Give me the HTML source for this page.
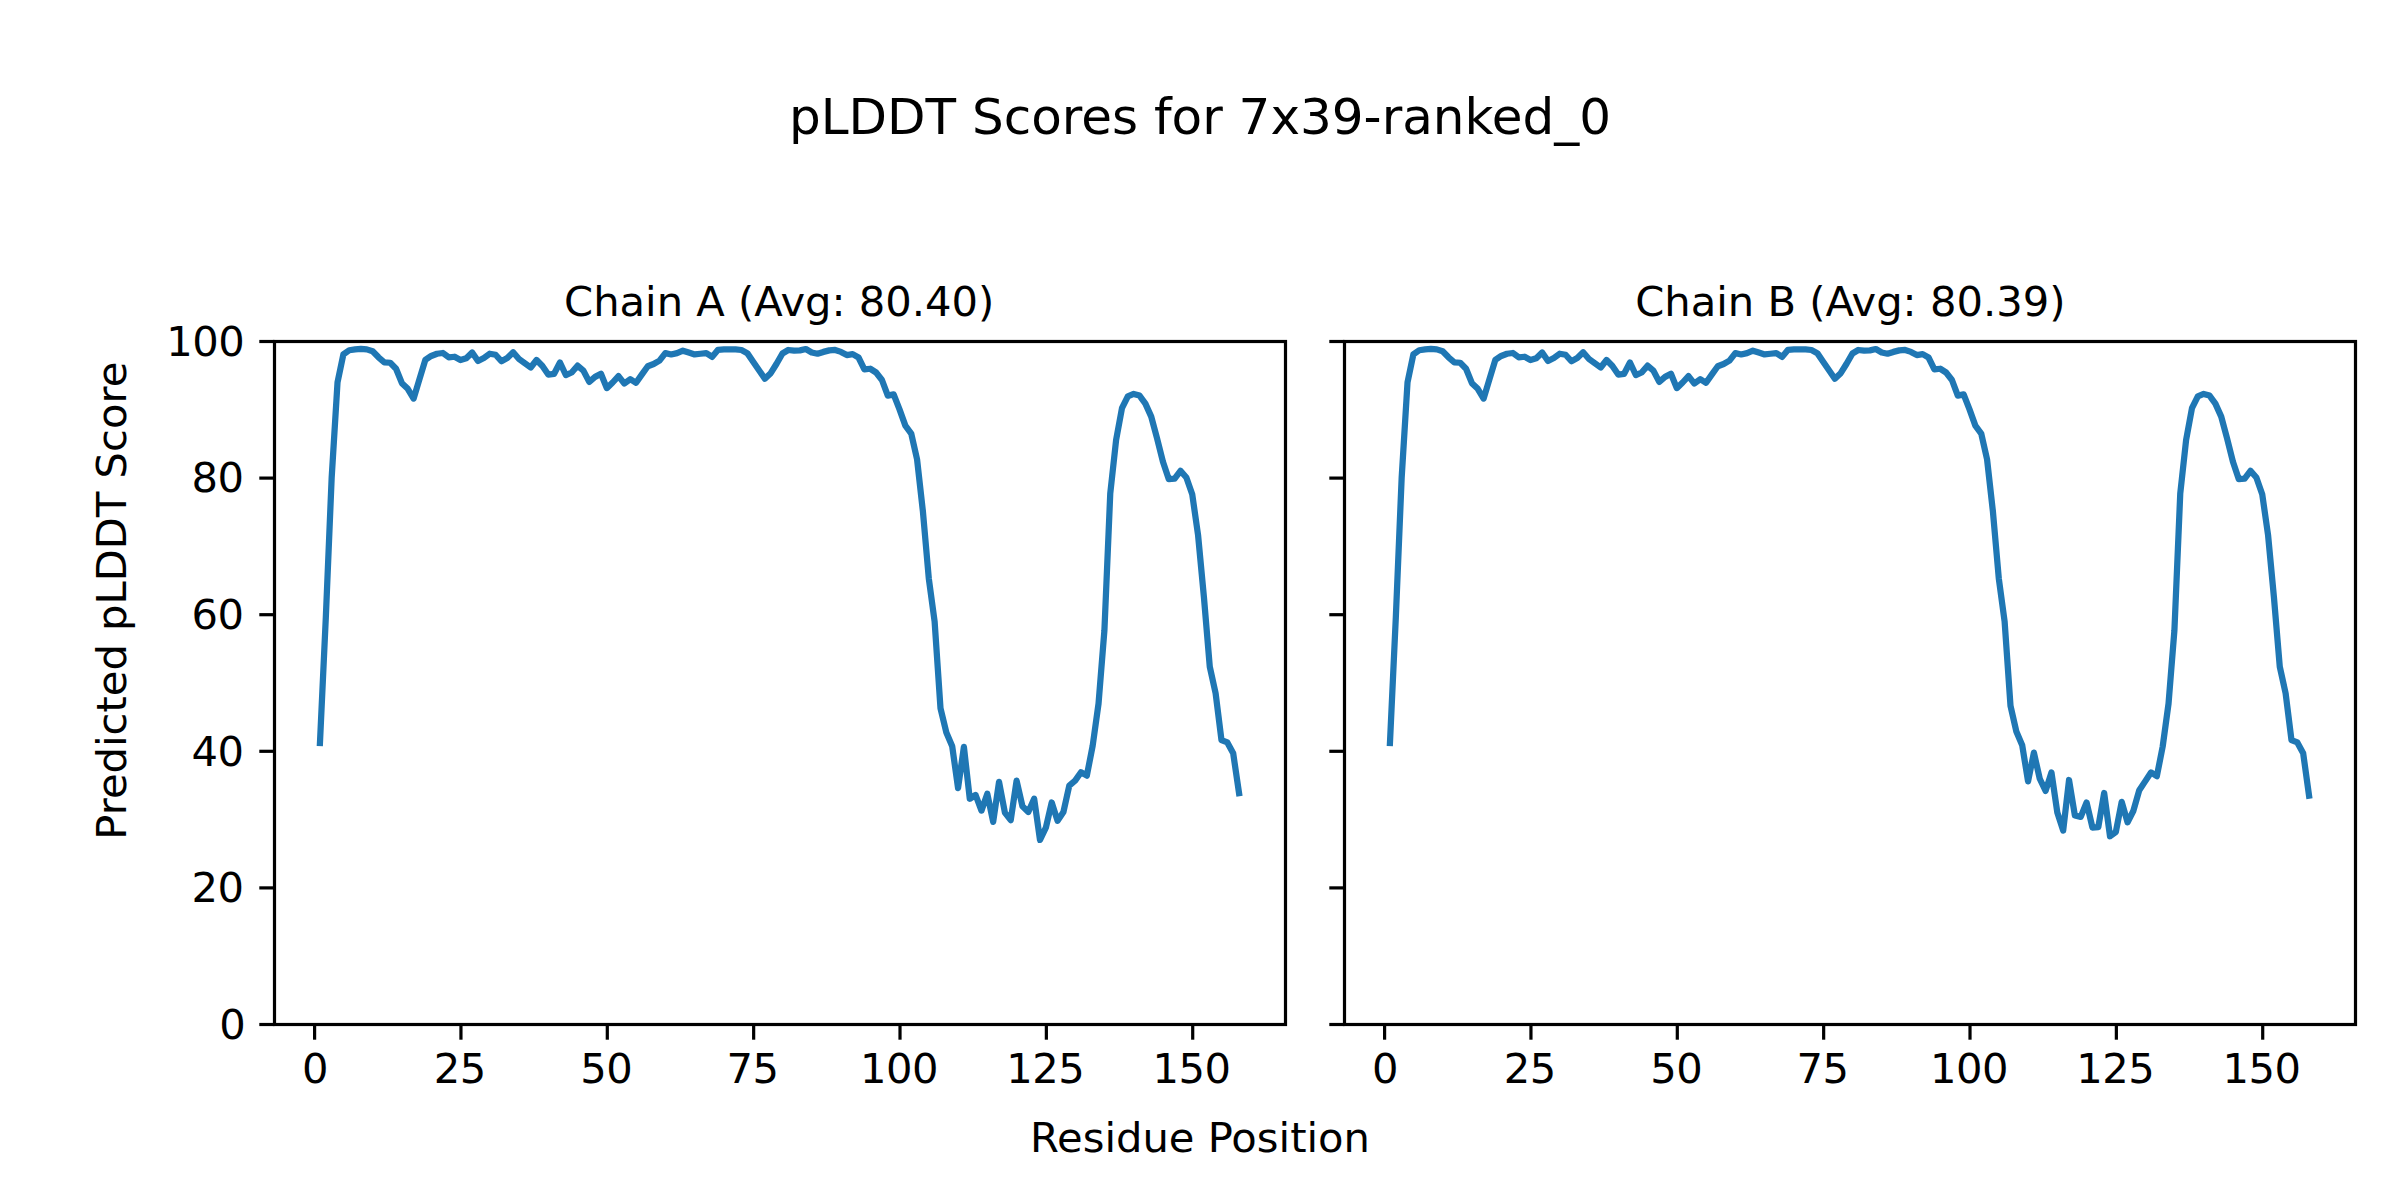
<!DOCTYPE html>
<html><head><meta charset="utf-8"><title>pLDDT Scores</title>
<style>html,body{margin:0;padding:0;background:#fff}svg{display:block}</style></head>
<body>
<svg width="2400" height="1200" viewBox="0 0 2400 1200">
<rect width="2400" height="1200" fill="#fff"/>
<g font-family="'DejaVu Sans','Liberation Sans',sans-serif" fill="#000">
<text x="1200" y="134.2" font-size="50" text-anchor="middle">pLDDT Scores for 7x39-ranked_0</text>
<polyline points="319.95,742.96 325.81,617.61 331.66,477.80 337.52,382.32 343.37,354.36 349.22,350.27 355.08,349.38 360.93,348.90 366.79,349.38 372.64,351.29 378.50,357.29 384.35,362.27 390.20,362.75 396.06,368.75 401.91,383.14 407.77,388.80 413.62,398.55 419.47,379.18 425.33,359.81 431.18,355.99 437.04,353.74 442.89,352.99 448.74,357.29 454.60,356.75 460.45,360.02 466.31,358.25 472.16,352.52 478.01,361.04 483.87,358.04 489.72,353.74 495.58,354.77 501.43,361.25 507.29,358.04 513.14,352.31 518.99,359.00 524.85,363.29 530.70,367.52 536.56,360.02 542.41,366.02 548.26,374.55 554.12,373.80 559.97,362.54 565.83,375.02 571.68,372.50 577.53,365.68 583.39,370.66 589.24,381.91 595.10,376.86 600.95,373.80 606.80,388.12 612.66,382.52 618.51,376.05 624.37,383.55 630.22,379.18 636.07,382.80 641.93,374.41 647.78,366.29 653.64,364.04 659.49,360.63 665.35,353.13 671.20,354.43 677.05,353.13 682.91,350.68 688.76,352.52 694.62,354.43 700.47,353.74 706.32,353.13 712.18,356.88 718.03,349.79 723.89,349.38 729.74,349.38 735.59,349.38 741.45,349.99 747.30,353.13 753.16,361.66 759.01,370.18 764.86,378.77 770.72,373.18 776.57,363.77 782.43,353.54 788.28,349.99 794.14,350.68 799.99,350.40 805.84,349.04 811.70,352.52 817.55,353.74 823.41,351.90 829.26,350.40 835.11,349.99 840.97,351.90 846.82,355.04 852.68,354.15 858.53,357.50 864.38,369.43 870.24,368.75 876.09,372.50 881.95,380.00 887.80,395.62 893.65,394.39 899.51,409.40 905.36,425.63 911.22,433.54 917.07,459.39 922.93,511.70 928.78,578.33 934.63,621.70 940.49,708.32 946.34,732.53 952.20,746.24 958.05,788.11 963.90,746.85 969.76,798.75 975.61,795.00 981.47,810.62 987.32,793.77 993.17,821.87 999.03,781.90 1004.88,812.53 1010.74,820.16 1016.59,780.61 1022.44,806.25 1028.30,811.98 1034.15,798.68 1040.01,839.94 1045.86,827.67 1051.71,802.43 1057.57,820.85 1063.42,811.98 1069.28,785.65 1075.13,780.61 1080.99,772.29 1086.84,775.63 1092.69,745.62 1098.55,703.54 1104.40,630.57 1110.26,493.49 1116.11,440.02 1121.96,408.24 1127.82,396.30 1133.67,393.91 1139.53,395.62 1145.38,403.65 1151.23,416.63 1157.09,438.49 1162.94,461.70 1168.80,479.16 1174.65,478.69 1180.50,470.84 1186.36,477.53 1192.21,494.17 1198.07,535.09 1203.92,597.15 1209.78,666.71 1215.63,693.31 1221.48,740.03 1227.34,742.42 1233.19,753.33 1239.05,793.08" fill="none" stroke="#1f77b4" stroke-width="6.25" stroke-linejoin="round" stroke-linecap="square"/>
<rect x="274.5" y="341.5" width="1011.0" height="683.0" fill="none" stroke="#000" stroke-width="3.2" stroke-linejoin="miter"/>
<line x1="314.60" y1="1024.5" x2="314.60" y2="1039.7" stroke="#000" stroke-width="3.2"/>
<text x="315.00" y="1083.0" font-size="41.667" letter-spacing="-0.5" text-anchor="middle">0</text>
<line x1="460.95" y1="1024.5" x2="460.95" y2="1039.7" stroke="#000" stroke-width="3.2"/>
<text x="459.85" y="1083.0" font-size="41.667" letter-spacing="-0.5" text-anchor="middle">25</text>
<line x1="607.30" y1="1024.5" x2="607.30" y2="1039.7" stroke="#000" stroke-width="3.2"/>
<text x="606.20" y="1083.0" font-size="41.667" letter-spacing="-0.5" text-anchor="middle">50</text>
<line x1="753.66" y1="1024.5" x2="753.66" y2="1039.7" stroke="#000" stroke-width="3.2"/>
<text x="752.56" y="1083.0" font-size="41.667" letter-spacing="-0.5" text-anchor="middle">75</text>
<line x1="900.01" y1="1024.5" x2="900.01" y2="1039.7" stroke="#000" stroke-width="3.2"/>
<text x="898.91" y="1083.0" font-size="41.667" letter-spacing="-0.5" text-anchor="middle">100</text>
<line x1="1046.36" y1="1024.5" x2="1046.36" y2="1039.7" stroke="#000" stroke-width="3.2"/>
<text x="1045.26" y="1083.0" font-size="41.667" letter-spacing="-0.5" text-anchor="middle">125</text>
<line x1="1192.71" y1="1024.5" x2="1192.71" y2="1039.7" stroke="#000" stroke-width="3.2"/>
<text x="1191.61" y="1083.0" font-size="41.667" letter-spacing="-0.5" text-anchor="middle">150</text>
<line x1="259.3" y1="1024.50" x2="274.5" y2="1024.50" stroke="#000" stroke-width="3.2"/>
<text x="245.20" y="1038.70" font-size="41.667" letter-spacing="-0.5" text-anchor="end">0</text>
<line x1="259.3" y1="887.90" x2="274.5" y2="887.90" stroke="#000" stroke-width="3.2"/>
<text x="243.50" y="902.10" font-size="41.667" letter-spacing="-0.5" text-anchor="end">20</text>
<line x1="259.3" y1="751.30" x2="274.5" y2="751.30" stroke="#000" stroke-width="3.2"/>
<text x="243.50" y="765.50" font-size="41.667" letter-spacing="-0.5" text-anchor="end">40</text>
<line x1="259.3" y1="614.70" x2="274.5" y2="614.70" stroke="#000" stroke-width="3.2"/>
<text x="243.50" y="628.90" font-size="41.667" letter-spacing="-0.5" text-anchor="end">60</text>
<line x1="259.3" y1="478.10" x2="274.5" y2="478.10" stroke="#000" stroke-width="3.2"/>
<text x="243.50" y="492.30" font-size="41.667" letter-spacing="-0.5" text-anchor="end">80</text>
<line x1="259.3" y1="341.50" x2="274.5" y2="341.50" stroke="#000" stroke-width="3.2"/>
<text x="244.20" y="355.70" font-size="41.667" letter-spacing="-0.5" text-anchor="end">100</text>
<text x="779.20" y="315.8" font-size="41.667" text-anchor="middle">Chain A (Avg: 80.40)</text>
<polyline points="1389.95,742.96 1395.81,617.61 1401.66,477.80 1407.52,382.32 1413.37,354.36 1419.22,350.27 1425.08,349.38 1430.93,348.90 1436.79,349.38 1442.64,351.29 1448.50,357.29 1454.35,362.27 1460.20,362.75 1466.06,368.75 1471.91,383.14 1477.77,388.80 1483.62,398.55 1489.47,379.18 1495.33,359.81 1501.18,355.99 1507.04,353.74 1512.89,352.99 1518.74,357.29 1524.60,356.75 1530.45,360.02 1536.31,358.25 1542.16,352.52 1548.01,361.04 1553.87,358.04 1559.72,353.74 1565.58,354.77 1571.43,361.25 1577.29,358.04 1583.14,352.31 1588.99,359.00 1594.85,363.29 1600.70,367.52 1606.56,360.02 1612.41,366.02 1618.26,374.55 1624.12,373.80 1629.97,362.54 1635.83,375.02 1641.68,372.50 1647.53,365.68 1653.39,370.66 1659.24,381.91 1665.10,376.86 1670.95,373.80 1676.80,388.12 1682.66,382.52 1688.51,376.05 1694.37,383.55 1700.22,379.18 1706.07,382.80 1711.93,374.41 1717.78,366.29 1723.64,364.04 1729.49,360.63 1735.35,353.13 1741.20,354.43 1747.05,353.13 1752.91,350.68 1758.76,352.52 1764.62,354.43 1770.47,353.74 1776.32,353.13 1782.18,356.88 1788.03,349.79 1793.89,349.38 1799.74,349.38 1805.59,349.38 1811.45,349.99 1817.30,353.13 1823.16,361.66 1829.01,370.18 1834.86,378.77 1840.72,373.18 1846.57,363.77 1852.43,353.54 1858.28,349.99 1864.14,350.68 1869.99,350.40 1875.84,349.04 1881.70,352.52 1887.55,353.74 1893.41,351.90 1899.26,350.40 1905.11,349.99 1910.97,351.90 1916.82,355.04 1922.68,354.15 1928.53,357.50 1934.38,369.43 1940.24,368.75 1946.09,372.50 1951.95,380.00 1957.80,395.62 1963.65,394.39 1969.51,409.40 1975.36,425.63 1981.22,433.54 1987.07,459.39 1992.93,511.70 1998.78,578.33 2004.63,621.70 2010.49,705.81 2016.34,731.49 2022.20,745.15 2028.05,781.35 2033.90,752.67 2039.76,778.76 2045.61,790.91 2051.47,772.47 2057.32,812.50 2063.17,830.53 2069.03,779.99 2074.88,815.50 2080.74,816.87 2086.59,802.52 2092.44,827.52 2098.30,827.11 2104.15,792.96 2110.01,836.27 2115.86,831.89 2121.71,801.84 2127.57,822.33 2133.42,810.72 2139.28,790.23 2145.13,781.35 2150.99,772.47 2156.84,776.23 2162.69,746.52 2168.55,703.54 2174.40,630.57 2180.26,493.49 2186.11,440.02 2191.96,408.24 2197.82,396.30 2203.67,393.91 2209.53,395.62 2215.38,403.65 2221.23,416.63 2227.09,438.49 2232.94,461.70 2238.80,479.16 2244.65,478.69 2250.50,470.84 2256.36,477.53 2262.21,494.17 2268.07,535.09 2273.92,597.15 2279.78,666.71 2285.63,693.31 2291.48,740.03 2297.34,742.42 2303.19,753.33 2309.05,795.69" fill="none" stroke="#1f77b4" stroke-width="6.25" stroke-linejoin="round" stroke-linecap="square"/>
<rect x="1344.5" y="341.5" width="1011.0" height="683.0" fill="none" stroke="#000" stroke-width="3.2" stroke-linejoin="miter"/>
<line x1="1384.60" y1="1024.5" x2="1384.60" y2="1039.7" stroke="#000" stroke-width="3.2"/>
<text x="1385.00" y="1083.0" font-size="41.667" letter-spacing="-0.5" text-anchor="middle">0</text>
<line x1="1530.95" y1="1024.5" x2="1530.95" y2="1039.7" stroke="#000" stroke-width="3.2"/>
<text x="1529.85" y="1083.0" font-size="41.667" letter-spacing="-0.5" text-anchor="middle">25</text>
<line x1="1677.30" y1="1024.5" x2="1677.30" y2="1039.7" stroke="#000" stroke-width="3.2"/>
<text x="1676.20" y="1083.0" font-size="41.667" letter-spacing="-0.5" text-anchor="middle">50</text>
<line x1="1823.66" y1="1024.5" x2="1823.66" y2="1039.7" stroke="#000" stroke-width="3.2"/>
<text x="1822.56" y="1083.0" font-size="41.667" letter-spacing="-0.5" text-anchor="middle">75</text>
<line x1="1970.01" y1="1024.5" x2="1970.01" y2="1039.7" stroke="#000" stroke-width="3.2"/>
<text x="1968.91" y="1083.0" font-size="41.667" letter-spacing="-0.5" text-anchor="middle">100</text>
<line x1="2116.36" y1="1024.5" x2="2116.36" y2="1039.7" stroke="#000" stroke-width="3.2"/>
<text x="2115.26" y="1083.0" font-size="41.667" letter-spacing="-0.5" text-anchor="middle">125</text>
<line x1="2262.71" y1="1024.5" x2="2262.71" y2="1039.7" stroke="#000" stroke-width="3.2"/>
<text x="2261.61" y="1083.0" font-size="41.667" letter-spacing="-0.5" text-anchor="middle">150</text>
<line x1="1329.3" y1="1024.50" x2="1344.5" y2="1024.50" stroke="#000" stroke-width="3.2"/>
<line x1="1329.3" y1="887.90" x2="1344.5" y2="887.90" stroke="#000" stroke-width="3.2"/>
<line x1="1329.3" y1="751.30" x2="1344.5" y2="751.30" stroke="#000" stroke-width="3.2"/>
<line x1="1329.3" y1="614.70" x2="1344.5" y2="614.70" stroke="#000" stroke-width="3.2"/>
<line x1="1329.3" y1="478.10" x2="1344.5" y2="478.10" stroke="#000" stroke-width="3.2"/>
<line x1="1329.3" y1="341.50" x2="1344.5" y2="341.50" stroke="#000" stroke-width="3.2"/>
<text x="1850.30" y="315.8" font-size="41.667" text-anchor="middle">Chain B (Avg: 80.39)</text>
<text x="1200" y="1152" font-size="41.667" text-anchor="middle">Residue Position</text>
<text transform="translate(126,600.7) rotate(-90)" font-size="41.667" text-anchor="middle">Predicted pLDDT Score</text>
</g></svg>
</body></html>
